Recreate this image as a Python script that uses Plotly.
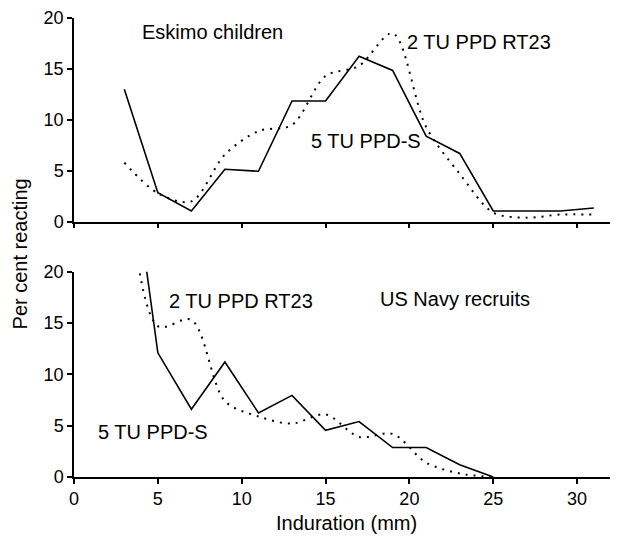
import plotly.graph_objects as go
from plotly.subplots import make_subplots

# Induration (mm)
induration = [3, 5, 7, 9, 11, 13, 15, 17, 19, 21, 23, 25, 27, 29, 31]

# Eskimo children (per cent reacting)
eskimo_ppds = [13.0, 2.85, 1.05, 5.15, 4.95, 11.85, 11.85, 16.25, 14.85, 8.4, 6.7, 1.05, 1.05, 1.05, 1.35]
eskimo_rt23 = [5.8, 2.8, 2.0, 6.6, 8.9, 9.5, 14.3, 15.3, 18.5, 9.3, 4.7, 0.9, 0.4, 0.7, 0.7]

# US Navy recruits
navy_x = [3, 5, 7, 9, 11, 13, 15, 17, 19, 21, 23, 25]
navy_ppds = [36.0, 12.1, 6.6, 11.2, 6.25, 7.95, 4.55, 5.4, 2.87, 2.87, 1.2, 0.0]
navy_rt23 = [33.0, 14.7, 15.3, 7.4, 5.9, 5.2, 6.1, 3.9, 4.2, 1.4, 0.35, 0.0]

x_ticks = [0, 5, 10, 15, 20, 25, 30]
y_ticks = [0, 5, 10, 15, 20]

FONT = "Liberation Sans, Arial, sans-serif"
FS = 18
AFS = 20

fig = make_subplots(rows=2, cols=1, shared_xaxes=False, vertical_spacing=0.1)

solid = dict(color="black", width=1.6)
dotted = dict(color="black", width=2, dash="2px,6px", shape="spline", smoothing=0.9)

fig.add_trace(go.Scatter(x=induration, y=eskimo_ppds, mode="lines", line=solid, showlegend=False), row=1, col=1)
fig.add_trace(go.Scatter(x=induration, y=eskimo_rt23, mode="lines", line=dotted, showlegend=False), row=1, col=1)
fig.add_trace(go.Scatter(x=navy_x, y=navy_ppds, mode="lines", line=solid, showlegend=False), row=2, col=1)
fig.add_trace(go.Scatter(x=navy_x, y=navy_rt23, mode="lines", line=dotted, showlegend=False), row=2, col=1)

xmax = 32.44
common_x = dict(range=[0, xmax], tickvals=x_ticks, ticks="outside", ticklen=5, tickwidth=1.5,
                tickcolor="black", showline=True, linecolor="black", linewidth=1.5,
                showgrid=False, zeroline=False, automargin=False, ticklabeloverflow="allow",
                tickfont=dict(family=FONT, size=FS, color="black"))
common_y = dict(range=[0, 20], tickvals=y_ticks, ticks="outside", ticklen=5, tickwidth=1.5,
                tickcolor="black", showline=True, linecolor="black", linewidth=1.5,
                showgrid=False, zeroline=False, automargin=False, ticklabeloverflow="allow",
                tickfont=dict(family=FONT, size=FS, color="black"))

fig.update_xaxes(**common_x)
fig.update_yaxes(**common_y)
fig.update_xaxes(showticklabels=False, row=1, col=1)

# page body adds an 8px offset; figure sized to fill the rest of the window
fig.update_layout(
    width=610, height=534,
    margin=dict(l=66, r=0, t=10, b=65, autoexpand=False),
    paper_bgcolor="white", plot_bgcolor="white",
    font=dict(family=FONT, size=FS, color="black"),
    xaxis=dict(domain=[0, 1]),
    yaxis=dict(domain=[0.5562, 1.0]),
    xaxis2=dict(domain=[0, 1]),
    yaxis2=dict(domain=[0.0, 0.4473]),
)

def ann(text, x, y, xref, yref, **kw):
    fig.add_annotation(text=text, x=x, y=y, xref=xref, yref=yref, showarrow=False,
                       xanchor="center", yanchor="middle",
                       font=dict(family=FONT, size=AFS, color="black"), **kw)

ann("Eskimo children", 8.26, 18.6, "x", "y")
ann("2 TU PPD RT23", 24.17, 17.65, "x", "y")
ann("5 TU PPD-S", 17.39, 7.91, "x", "y")
ann("2 TU PPD RT23", 9.93, 17.17, "x2", "y2")
ann("US Navy recruits", 22.73, 17.34, "x2", "y2")
ann("5 TU PPD-S", 4.7, 4.36, "x2", "y2")
ann("Per cent reacting", -0.0993, 0.487, "paper", "paper", textangle=-90)
ann("Induration (mm)", 0.5, -0.1003, "paper", "paper")

fig.write_html("out.html")
